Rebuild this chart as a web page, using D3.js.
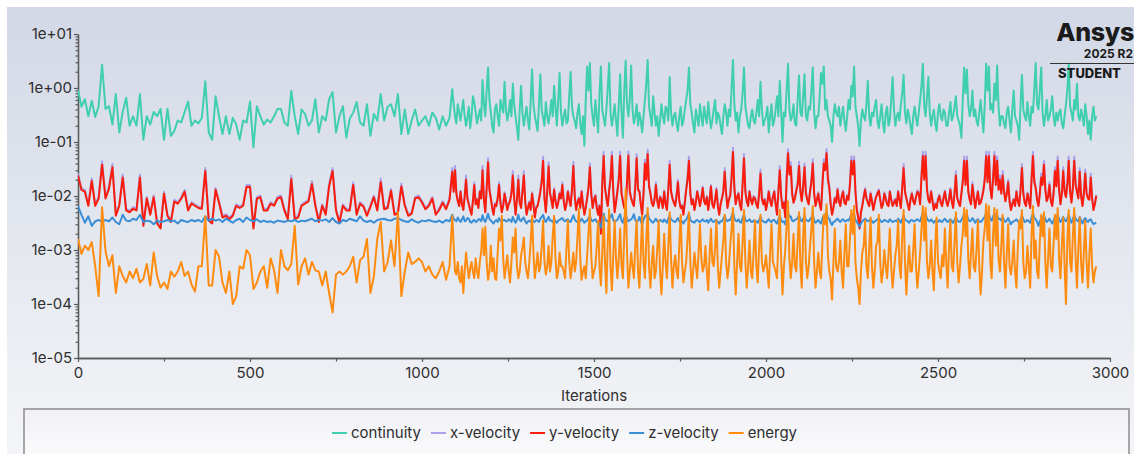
<!DOCTYPE html>
<html>
<head>
<meta charset="utf-8">
<script src="https://cdn.jsdelivr.net/npm/d3@7"></script>
<style>
  html, body { margin: 0; padding: 0; background: #ffffff; }
  svg { display: block; font-family: Inter, "Noto Sans", sans-serif; }
</style>
</head>
<body>
<svg id="chart" width="1134" height="454"></svg>
<script>
// Residual history: iteration numbers and the residual of each equation.
const iterations = [
  0,10,20,30,40,50,60,70,80,90,
  100,110,120,130,140,150,160,170,180,190,
  200,210,220,230,240,250,260,270,280,290,
  300,310,320,330,340,350,360,370,380,390,
  400,410,420,430,440,450,460,470,480,490,
  500,510,520,530,540,550,560,570,580,590,
  600,610,620,630,640,650,660,670,680,690,
  700,710,720,730,740,750,760,770,780,790,
  800,810,820,830,840,850,860,870,880,890,
  900,910,920,930,940,950,960,970,980,990,
  1000,1010,1020,1030,1040,1050,1060,1070,1080,
  1088,1092,1096,1100,1104,1108,1112,1116,1120,1124,1128,1132,1136,1140,1144,1148,1152,1156,1160,1164,
  1168,1172,1176,1180,1184,1188,1192,1196,1200,1204,1208,1212,1216,1220,1224,1228,1232,1236,1240,1244,
  1248,1252,1256,1260,1264,1268,1272,1276,1280,1284,1288,1292,1296,1300,1304,1308,1312,1316,1320,1324,
  1328,1332,1336,1340,1344,1348,1352,1356,1360,1364,1368,1372,1376,1380,1384,1388,1392,1396,1400,1404,
  1408,1412,1416,1420,1424,1428,1432,1436,1440,1444,1448,1452,1456,1460,1464,1468,1472,1476,1480,1484,
  1488,1492,1496,1500,1504,1508,1512,1516,1520,1524,1528,1532,1536,1540,1544,1548,1552,1556,1560,1564,
  1568,1572,1576,1580,1584,1588,1592,1596,1600,1604,1608,1612,1616,1620,1624,1628,1632,1636,1640,1644,
  1648,1652,1656,1660,1664,1668,1672,1676,1680,1684,1688,1692,1696,1700,1704,1708,1712,1716,1720,1724,
  1728,1732,1736,1740,1744,1748,1752,1756,1760,1764,1768,1772,1776,1780,1784,1788,1792,1796,1800,1804,
  1808,1812,1816,1820,1824,1828,1832,1836,1840,1844,1848,1852,1856,1860,1864,1868,1872,1876,1880,1884,
  1888,1892,1896,1900,1904,1908,1912,1916,1920,1924,1928,1932,1936,1940,1944,1948,1952,1956,1960,1964,
  1968,1972,1976,1980,1984,1988,1992,1996,2000,2004,2008,2012,2016,2020,2024,2028,2032,2036,2040,2044,
  2048,2052,2056,2060,2064,2068,2072,2076,2080,2084,2088,2092,2096,2100,2104,2108,2112,2116,2120,2124,
  2128,2132,2136,2140,2144,2148,2152,2156,2160,2164,2168,2172,2176,2180,2184,2188,2192,2196,2200,2204,
  2208,2212,2216,2220,2224,2228,2232,2236,2240,2244,2248,2252,2256,2260,2264,2268,2272,2276,2280,2284,
  2288,2292,2296,2300,2304,2308,2312,2316,2320,2324,2328,2332,2336,2340,2344,2348,2352,2356,2360,2364,
  2368,2372,2376,2380,2384,2388,2392,2396,2400,2404,2408,2412,2416,2420,2424,2428,2432,2436,2440,2444,
  2448,2452,2456,2460,2464,2468,2472,2476,2480,2484,2488,2492,2496,2500,2504,2508,2512,2516,2520,2524,
  2528,2532,2536,2540,2544,2548,2552,2556,2560,2564,2568,2572,2576,2580,2584,2588,2592,2596,2600,2604,
  2608,2612,2616,2620,2624,2628,2632,2636,2640,2644,2648,2652,2656,2660,2664,2668,2672,2676,2680,2684,
  2688,2692,2696,2700,2704,2708,2712,2716,2720,2724,2728,2732,2736,2740,2744,2748,2752,2756,2760,2764,
  2768,2772,2776,2780,2784,2788,2792,2796,2800,2804,2808,2812,2816,2820,2824,2828,2832,2836,2840,2844,
  2848,2852,2856,2860,2864,2868,2872,2876,2880,2884,2888,2892,2896,2900,2904,2908,2912,2916,2920,2924,
  2928,2932,2936,2940,2944,2948,2952,2956,2960
];

const continuity = [
  0.93,0.45,0.62,0.3,0.58,0.29,0.46,2.7,0.41,0.46,
  0.21,0.77,0.15,0.36,0.66,0.2,0.3,0.2,0.77,0.11,
  0.3,0.21,0.36,0.3,0.41,0.11,0.41,0.13,0.16,0.25,
  0.23,0.36,0.56,0.2,0.25,0.22,0.28,1.33,0.15,0.11,
  0.7,0.3,0.14,0.3,0.14,0.28,0.21,0.11,0.25,0.23,
  0.56,0.08,0.46,0.3,0.21,0.26,0.23,0.3,0.41,0.41,
  0.23,0.2,0.88,0.3,0.14,0.4,0.33,0.2,0.25,0.62,
  0.15,0.3,0.25,0.62,0.84,0.15,0.3,0.46,0.12,0.27,
  0.35,0.55,0.23,0.2,0.5,0.13,0.33,0.25,0.77,0.25,
  0.45,0.5,0.3,0.77,0.14,0.4,0.14,0.25,0.4,0.2,
  0.25,0.3,0.2,0.35,0.28,0.17,0.3,0.2,0.28,
  0.95,0.5,0.3,0.22,0.5,0.35,0.25,0.4,0.6,0.3,0.2,0.28,0.45,0.18,0.3,0.7,0.55,0.35,0.22,0.3,
  0.4,0.25,1.4,0.5,0.3,0.9,2.4,0.6,0.35,0.2,0.15,0.4,0.5,0.3,0.2,0.6,0.45,0.35,1.3,0.4,
  0.25,0.35,0.6,0.3,1.2,0.5,0.3,0.18,0.11,0.4,1.1,0.35,0.2,0.3,0.45,0.25,0.17,0.6,2.2,0.5,
  0.3,0.22,0.16,0.5,1.8,0.4,0.28,0.2,0.55,0.3,0.22,0.35,0.6,0.3,1.1,0.45,0.2,0.6,1.9,0.35,
  0.2,0.3,0.4,0.22,0.25,0.7,2.0,0.45,0.3,0.25,0.18,0.35,0.5,0.22,0.14,0.3,0.085,0.6,2.5,0.9,
  2.9,0.5,0.3,0.2,0.6,0.3,0.15,0.8,2.5,0.4,0.28,0.2,0.4,1.0,2.9,0.35,0.2,0.3,0.5,0.25,
  0.13,0.5,1.8,0.35,0.12,0.9,3.2,0.5,0.3,0.6,2.6,0.4,0.22,0.3,0.5,0.2,0.35,0.25,0.15,0.3,
  0.6,1.2,3.3,0.45,0.3,0.2,0.7,0.35,0.2,0.3,0.13,0.25,0.5,0.3,0.22,0.45,0.4,0.25,1.6,0.35,
  0.2,0.3,0.35,0.22,0.16,0.3,0.45,0.2,0.25,0.4,0.6,0.9,2.4,0.5,0.35,0.22,0.15,0.4,0.28,0.2,
  0.5,0.3,0.2,0.45,0.3,0.22,0.55,0.3,0.18,0.25,0.4,0.6,0.22,0.35,0.3,0.2,0.14,0.3,0.5,0.35,
  0.2,0.4,0.3,1.0,3.3,0.5,0.25,0.35,0.15,0.3,0.4,0.8,2.4,0.45,0.3,0.2,0.18,0.3,0.4,0.25,
  0.22,0.35,0.6,0.3,1.3,0.4,0.2,0.25,0.3,0.45,0.15,0.3,0.5,0.2,0.25,0.4,0.7,0.3,1.35,0.4,
  0.1,0.35,0.3,0.9,2.8,0.4,0.25,0.3,0.5,0.22,0.2,0.6,1.7,0.35,0.3,0.7,1.8,0.3,0.25,0.45,
  0.4,0.9,2.4,0.35,0.18,0.3,0.3,0.7,1.9,1.2,2.5,0.4,0.6,0.3,0.25,0.2,0.1,0.3,0.5,0.35,
  0.3,0.45,0.2,0.3,0.45,0.25,0.16,0.3,0.6,0.4,1.1,0.7,2.5,0.45,0.3,0.2,0.085,0.25,0.4,0.3,
  0.25,0.5,1.35,0.3,0.2,0.35,0.3,0.45,0.6,0.25,0.18,0.3,0.5,0.22,0.15,0.35,0.45,0.2,0.25,0.6,
  1.6,0.4,0.2,0.3,0.35,0.25,0.5,0.8,1.75,0.35,0.22,0.4,0.3,0.2,0.14,0.3,0.45,0.28,0.2,0.35,
  0.6,1.1,2.8,0.45,0.3,0.7,1.6,0.35,0.2,0.3,0.4,0.22,0.16,0.35,0.5,0.3,0.25,0.4,0.35,0.2,
  0.2,0.35,0.55,0.25,0.3,0.45,0.7,0.3,0.25,0.2,0.12,0.6,2.4,0.8,2.2,0.5,0.3,0.4,0.9,0.3,
  0.4,0.25,0.2,0.35,0.6,0.3,0.15,0.5,2.8,0.9,2.5,0.4,0.5,0.35,1.2,0.6,2.6,0.45,0.2,0.3,
  0.3,0.22,0.18,0.35,0.45,0.25,0.15,0.4,0.9,0.3,0.25,0.2,0.11,0.5,1.75,0.4,0.3,0.25,0.55,0.3,
  0.2,0.45,0.35,1.0,2.9,0.5,0.4,0.9,2.4,0.35,0.2,0.3,0.6,0.25,0.3,0.4,0.7,0.3,0.2,0.35,
  0.25,0.35,0.4,0.22,0.18,0.3,0.5,0.9,2.8,0.45,0.35,0.25,0.6,0.4,1.2,0.3,0.25,0.4,0.3,0.2,
  0.5,0.3,0.14,0.25,0.11,0.3,0.45,0.25,0.3
];

const xVelocity = [
  0.026,0.014,0.013,0.007,0.021,0.007,0.0096,0.044,0.0096,0.015,
  0.039,0.0046,0.007,0.025,0.0058,0.0053,0.0062,0.0058,0.025,0.003,
  0.0096,0.0048,0.0102,0.0033,0.0027,0.012,0.0046,0.0035,0.0085,0.0077,
  0.0095,0.013,0.0058,0.0077,0.007,0.0064,0.0062,0.033,0.0037,0.0033,
  0.014,0.008,0.0043,0.0046,0.004,0.0046,0.007,0.0064,0.007,0.016,
  0.016,0.0027,0.0095,0.0102,0.0058,0.0058,0.0077,0.007,0.0096,0.0102,
  0.0058,0.004,0.024,0.004,0.0043,0.007,0.0077,0.0085,0.019,0.007,
  0.0035,0.007,0.0048,0.017,0.033,0.0058,0.0034,0.007,0.0058,0.0058,
  0.018,0.0048,0.0077,0.0067,0.0046,0.0067,0.0102,0.0058,0.021,0.0061,
  0.0064,0.0134,0.0048,0.0051,0.017,0.007,0.0046,0.005,0.0096,0.0102,
  0.0081,0.0061,0.007,0.0096,0.0048,0.0059,0.008,0.0061,0.0091,
  0.033,0.0127,0.036,0.0117,0.0085,0.0069,0.0127,0.0074,0.0058,0.01,0.024,0.0095,0.0074,0.0058,0.0048,0.0085,0.018,0.0074,0.009,0.0064,
  0.0127,0.0095,0.036,0.009,0.0053,0.015,0.05,0.014,0.0095,0.0064,0.0048,0.0074,0.0069,0.0095,0.018,0.008,0.0053,0.0069,0.0117,0.0085,
  0.0058,0.0074,0.0085,0.0117,0.029,0.0095,0.0048,0.009,0.024,0.008,0.0064,0.0127,0.029,0.0085,0.0048,0.0064,0.008,0.0058,0.0117,0.0074,
  0.0042,0.0064,0.0069,0.009,0.0127,0.02,0.054,0.0095,0.0053,0.0127,0.042,0.0117,0.009,0.0064,0.014,0.0085,0.0064,0.008,0.0117,0.0095,
  0.018,0.0085,0.0058,0.0074,0.0127,0.009,0.0069,0.014,0.043,0.0106,0.0058,0.008,0.0095,0.0064,0.0127,0.0074,0.0048,0.0064,0.0095,0.015,
  0.04,0.0117,0.0064,0.009,0.0106,0.0064,0.0048,0.0069,0.0021,0.018,0.066,0.015,0.0095,0.0069,0.0133,0.024,0.066,0.0127,0.0053,0.008,
  0.0127,0.024,0.066,0.0117,0.0085,0.0064,0.0058,0.02,0.067,0.0127,0.0095,0.008,0.0069,0.016,0.06,0.014,0.0127,0.0074,0.0048,0.0117,
  0.047,0.024,0.072,0.016,0.0117,0.008,0.0069,0.009,0.018,0.0085,0.0064,0.01,0.009,0.0064,0.0127,0.0074,0.0058,0.014,0.045,0.0127,
  0.0095,0.008,0.0069,0.0106,0.02,0.0085,0.0064,0.0069,0.0048,0.008,0.014,0.024,0.054,0.0117,0.0074,0.009,0.0058,0.008,0.0127,0.0095,
  0.0069,0.0095,0.015,0.0085,0.0074,0.01,0.0058,0.009,0.016,0.0074,0.0064,0.009,0.014,0.0069,0.0048,0.0074,0.0095,0.0127,0.033,0.0117,
  0.0064,0.009,0.0106,0.026,0.078,0.015,0.0074,0.01,0.0117,0.0074,0.0058,0.018,0.06,0.0127,0.0085,0.0069,0.0127,0.009,0.0074,0.01,
  0.0095,0.0074,0.0064,0.0117,0.031,0.0095,0.0074,0.009,0.0058,0.008,0.0127,0.0085,0.0069,0.01,0.0127,0.0074,0.0048,0.0127,0.036,0.0106,
  0.0064,0.008,0.0042,0.024,0.074,0.03,0.042,0.0117,0.008,0.0095,0.0133,0.018,0.043,0.0127,0.0085,0.016,0.04,0.0117,0.009,0.0074,
  0.0127,0.02,0.048,0.0117,0.0069,0.009,0.0117,0.0074,0.0058,0.018,0.048,0.036,0.074,0.024,0.015,0.0074,0.0048,0.0064,0.0095,0.008,
  0.014,0.0085,0.0069,0.01,0.0127,0.008,0.0074,0.0106,0.009,0.018,0.054,0.03,0.054,0.0127,0.0058,0.0042,0.0026,0.0053,0.0069,0.01,
  0.014,0.0095,0.008,0.0069,0.0117,0.0085,0.0058,0.008,0.01,0.0117,0.0133,0.009,0.0064,0.0074,0.0117,0.0095,0.0074,0.0069,0.0127,0.009,
  0.0069,0.008,0.009,0.0069,0.0127,0.009,0.0064,0.015,0.039,0.0127,0.0095,0.0074,0.0058,0.009,0.0117,0.0085,0.0074,0.01,0.0127,0.0117,
  0.0074,0.026,0.066,0.024,0.066,0.014,0.009,0.008,0.0127,0.0085,0.0058,0.0074,0.0064,0.009,0.0106,0.008,0.0069,0.0095,0.0127,0.0085,
  0.0069,0.009,0.014,0.0085,0.0064,0.0117,0.029,0.0095,0.008,0.0069,0.0117,0.02,0.054,0.018,0.054,0.0127,0.009,0.0074,0.018,0.0106,
  0.0064,0.009,0.0127,0.0074,0.008,0.01,0.0133,0.024,0.066,0.02,0.066,0.015,0.0095,0.024,0.066,0.018,0.054,0.014,0.024,0.0117,
  0.029,0.0127,0.0085,0.0117,0.02,0.0085,0.0058,0.0074,0.009,0.0069,0.0127,0.0085,0.0069,0.014,0.039,0.0117,0.008,0.0069,0.0117,0.009,
  0.0064,0.024,0.066,0.02,0.015,0.009,0.0069,0.0117,0.026,0.018,0.045,0.014,0.0085,0.01,0.018,0.0085,0.0069,0.0117,0.034,0.016,
  0.054,0.014,0.0074,0.0117,0.034,0.0127,0.01,0.018,0.054,0.0127,0.008,0.015,0.054,0.018,0.0127,0.0095,0.033,0.0106,0.0069,0.0117,
  0.031,0.0117,0.0095,0.009,0.026,0.0095,0.0058,0.0074,0.0106
];

const yVelocity = [
  0.024,0.013,0.012,0.0066,0.019,0.0066,0.009,0.038,0.009,0.0135,
  0.034,0.0043,0.0066,0.022,0.0054,0.005,0.0058,0.0054,0.022,0.0028,
  0.009,0.0045,0.0095,0.0031,0.0025,0.011,0.0043,0.0033,0.0079,0.0072,
  0.0089,0.012,0.0054,0.0072,0.0066,0.006,0.0058,0.029,0.0035,0.0031,
  0.013,0.0075,0.004,0.0043,0.0037,0.0043,0.0066,0.006,0.0066,0.0147,
  0.0147,0.0025,0.0089,0.0095,0.0054,0.0054,0.0072,0.0066,0.009,0.0095,
  0.0054,0.0037,0.0206,0.0037,0.004,0.0066,0.0072,0.0079,0.0167,0.0066,
  0.0033,0.0066,0.0045,0.015,0.029,0.0054,0.0032,0.0066,0.0054,0.0054,
  0.016,0.0045,0.0072,0.0063,0.0043,0.0063,0.0095,0.0054,0.018,0.0057,
  0.006,0.0125,0.0045,0.0048,0.015,0.0066,0.0043,0.0047,0.009,0.0095,
  0.0076,0.0057,0.0066,0.009,0.0045,0.0055,0.0075,0.0057,0.0085,
  0.028,0.012,0.03,0.011,0.008,0.0065,0.012,0.007,0.0055,0.0095,0.02,0.009,0.007,0.0055,0.0045,0.008,0.016,0.007,0.0085,0.006,
  0.012,0.009,0.03,0.0085,0.005,0.014,0.042,0.013,0.009,0.006,0.0045,0.007,0.0065,0.009,0.016,0.0075,0.005,0.0065,0.011,0.008,
  0.0055,0.007,0.008,0.011,0.024,0.009,0.0045,0.0085,0.02,0.0075,0.006,0.012,0.024,0.008,0.0045,0.006,0.0075,0.0055,0.011,0.007,
  0.004,0.006,0.0065,0.0085,0.012,0.018,0.045,0.009,0.005,0.012,0.035,0.011,0.0085,0.006,0.013,0.008,0.006,0.0075,0.011,0.009,
  0.016,0.008,0.0055,0.007,0.012,0.0085,0.0065,0.013,0.036,0.01,0.0055,0.0075,0.009,0.006,0.012,0.007,0.0045,0.006,0.009,0.014,
  0.034,0.011,0.006,0.0085,0.01,0.006,0.0045,0.0065,0.002,0.016,0.055,0.014,0.009,0.0065,0.0125,0.02,0.055,0.012,0.005,0.0075,
  0.012,0.02,0.055,0.011,0.008,0.006,0.0055,0.018,0.056,0.012,0.009,0.0075,0.0065,0.015,0.05,0.013,0.012,0.007,0.0045,0.011,
  0.04,0.02,0.06,0.015,0.011,0.0075,0.0065,0.0085,0.016,0.008,0.006,0.0095,0.0085,0.006,0.012,0.007,0.0055,0.013,0.038,0.012,
  0.009,0.0075,0.0065,0.01,0.018,0.008,0.006,0.0065,0.0045,0.0075,0.013,0.02,0.045,0.011,0.007,0.0085,0.0055,0.0075,0.012,0.009,
  0.0065,0.009,0.014,0.008,0.007,0.0095,0.0055,0.0085,0.015,0.007,0.006,0.0085,0.013,0.0065,0.0045,0.007,0.009,0.012,0.028,0.011,
  0.006,0.0085,0.01,0.022,0.065,0.014,0.007,0.0095,0.011,0.007,0.0055,0.016,0.05,0.012,0.008,0.0065,0.012,0.0085,0.007,0.0095,
  0.009,0.007,0.006,0.011,0.026,0.009,0.007,0.0085,0.0055,0.0075,0.012,0.008,0.0065,0.0095,0.012,0.007,0.0045,0.012,0.03,0.01,
  0.006,0.0075,0.004,0.02,0.062,0.025,0.035,0.011,0.0075,0.009,0.0125,0.016,0.036,0.012,0.008,0.015,0.034,0.011,0.0085,0.007,
  0.012,0.018,0.04,0.011,0.0065,0.0085,0.011,0.007,0.0055,0.016,0.04,0.03,0.062,0.02,0.014,0.007,0.0045,0.006,0.009,0.0075,
  0.013,0.008,0.0065,0.0095,0.012,0.0075,0.007,0.01,0.0085,0.016,0.045,0.025,0.045,0.012,0.0055,0.004,0.0025,0.005,0.0065,0.0095,
  0.013,0.009,0.0075,0.0065,0.011,0.008,0.0055,0.0075,0.0095,0.011,0.0125,0.0085,0.006,0.007,0.011,0.009,0.007,0.0065,0.012,0.0085,
  0.0065,0.0075,0.0085,0.0065,0.012,0.0085,0.006,0.014,0.033,0.012,0.009,0.007,0.0055,0.0085,0.011,0.008,0.007,0.0095,0.012,0.011,
  0.007,0.022,0.055,0.02,0.055,0.013,0.0085,0.0075,0.012,0.008,0.0055,0.007,0.006,0.0085,0.01,0.0075,0.0065,0.009,0.012,0.008,
  0.0065,0.0085,0.013,0.008,0.006,0.011,0.024,0.009,0.0075,0.0065,0.011,0.018,0.045,0.016,0.045,0.012,0.0085,0.007,0.016,0.01,
  0.006,0.0085,0.012,0.007,0.0075,0.0095,0.0125,0.02,0.055,0.018,0.055,0.014,0.009,0.02,0.055,0.016,0.045,0.013,0.02,0.011,
  0.024,0.012,0.008,0.011,0.018,0.008,0.0055,0.007,0.0085,0.0065,0.012,0.008,0.0065,0.013,0.033,0.011,0.0075,0.0065,0.011,0.0085,
  0.006,0.02,0.055,0.018,0.014,0.0085,0.0065,0.011,0.022,0.016,0.038,0.013,0.008,0.0095,0.016,0.008,0.0065,0.011,0.029,0.015,
  0.045,0.013,0.007,0.011,0.029,0.012,0.0095,0.016,0.045,0.012,0.0075,0.014,0.045,0.016,0.012,0.009,0.028,0.01,0.0065,0.011,
  0.026,0.011,0.009,0.0085,0.022,0.009,0.0055,0.007,0.01
];

const zVelocity = [
  0.0065,0.0045,0.0032,0.0042,0.0028,0.0034,0.0036,0.0033,0.0036,0.0034,
  0.004,0.0033,0.003,0.0045,0.0035,0.0034,0.0038,0.0036,0.0045,0.0033,
  0.0035,0.0034,0.003,0.0035,0.0033,0.0034,0.0036,0.0034,0.0035,0.0031,
  0.0036,0.0034,0.0033,0.0036,0.0034,0.0036,0.0033,0.0042,0.0035,0.0038,
  0.0035,0.0037,0.0033,0.0038,0.0035,0.0032,0.0036,0.0038,0.0033,0.004,
  0.0036,0.0034,0.0037,0.0033,0.0035,0.0033,0.0034,0.0032,0.0035,0.0034,
  0.0033,0.0035,0.0034,0.0036,0.0033,0.0035,0.0034,0.0036,0.0038,0.0034,
  0.0036,0.0035,0.0037,0.0033,0.0039,0.0033,0.0031,0.0036,0.0034,0.0038,
  0.0036,0.0034,0.0042,0.0035,0.0033,0.0035,0.0032,0.0036,0.0037,0.0038,
  0.0036,0.0035,0.0038,0.0039,0.0036,0.0034,0.0033,0.0037,0.0034,0.0032,
  0.0035,0.0034,0.0036,0.0034,0.0033,0.0035,0.0032,0.0036,0.0034,
  0.0045,0.0038,0.0036,0.0034,0.004,0.0036,0.0033,0.0037,0.0042,0.0034,0.0035,0.0039,0.0038,0.0033,0.0032,0.0035,0.0036,0.0033,0.0034,0.0037,
  0.0037,0.0034,0.0044,0.0036,0.0033,0.0039,0.0047,0.0038,0.0035,0.0033,0.0031,0.0034,0.0036,0.0033,0.0039,0.0035,0.0033,0.0036,0.0036,0.0034,
  0.0034,0.0037,0.0036,0.0033,0.0041,0.0035,0.0032,0.0036,0.0045,0.0036,0.0034,0.0038,0.004,0.0034,0.0031,0.0034,0.0035,0.0033,0.0037,0.0034,
  0.0033,0.0036,0.0035,0.0033,0.0038,0.0041,0.0045,0.0036,0.0033,0.0037,0.0041,0.0035,0.0035,0.0033,0.0038,0.0034,0.0032,0.0035,0.0036,0.0038,
  0.0039,0.0035,0.0034,0.0036,0.0037,0.0034,0.0033,0.0038,0.0044,0.0037,0.0034,0.0033,0.0036,0.0034,0.0038,0.0035,0.0032,0.0034,0.0035,0.0039,
  0.0042,0.0036,0.0034,0.0036,0.0037,0.0033,0.0032,0.003,0.0026,0.0038,0.0047,0.0037,0.0035,0.0034,0.0038,0.0041,0.0046,0.0036,0.0033,0.0035,
  0.0036,0.0041,0.0046,0.0035,0.0032,0.0039,0.0048,0.0037,0.0034,0.0036,0.0037,0.004,0.0046,0.0036,0.0033,0.0035,0.0041,0.0034,0.003,0.0036,
  0.0042,0.0044,0.0048,0.0038,0.0036,0.0033,0.0032,0.0035,0.0038,0.0034,0.0033,0.0036,0.0035,0.0033,0.0037,0.0034,0.0032,0.0038,0.0043,0.0037,
  0.0035,0.0034,0.0033,0.0036,0.0039,0.0034,0.0032,0.0034,0.0031,0.0035,0.0036,0.0041,0.0047,0.0036,0.0034,0.0033,0.0032,0.0035,0.0036,0.0034,
  0.0033,0.0035,0.0037,0.0034,0.0034,0.0036,0.0032,0.0035,0.0038,0.0034,0.0033,0.0035,0.0036,0.0033,0.0031,0.0034,0.0034,0.0038,0.0042,0.0036,
  0.0034,0.0036,0.0036,0.0042,0.005,0.0038,0.0035,0.0034,0.0037,0.0033,0.0032,0.0039,0.0046,0.0036,0.0034,0.0035,0.0037,0.0034,0.0033,0.0035,
  0.0035,0.0034,0.0032,0.0036,0.0041,0.0035,0.0034,0.0033,0.0032,0.0035,0.0037,0.0034,0.0033,0.0036,0.0036,0.0033,0.0031,0.0037,0.0043,0.0036,
  0.0033,0.0034,0.003,0.0039,0.0049,0.0041,0.0042,0.0035,0.0034,0.0036,0.0037,0.0039,0.0044,0.0036,0.0034,0.0038,0.0043,0.0036,0.0035,0.0034,
  0.0037,0.004,0.0045,0.0035,0.0032,0.0034,0.0036,0.0033,0.0031,0.0038,0.0044,0.0046,0.005,0.0039,0.0038,0.0032,0.0029,0.0033,0.0034,0.0036,
  0.0038,0.0035,0.0033,0.0036,0.0037,0.0034,0.0034,0.0036,0.0035,0.0039,0.0046,0.0042,0.0047,0.0036,0.0033,0.003,0.0027,0.0031,0.0034,0.0036,
  0.0038,0.0036,0.0034,0.0035,0.0037,0.0034,0.0032,0.0034,0.0035,0.0037,0.0039,0.0035,0.0033,0.0034,0.0036,0.0035,0.0034,0.0033,0.0037,0.0035,
  0.0033,0.0034,0.0035,0.0034,0.0038,0.0035,0.0032,0.0037,0.0043,0.0037,0.0035,0.0034,0.0032,0.0035,0.0036,0.0034,0.0034,0.0036,0.0037,0.0035,
  0.0034,0.0041,0.0048,0.0042,0.0047,0.0038,0.0035,0.0034,0.0037,0.0034,0.0032,0.0035,0.0034,0.0033,0.0036,0.0034,0.0033,0.0036,0.0038,0.0035,
  0.0033,0.0035,0.0037,0.0034,0.0032,0.0036,0.0041,0.0035,0.0034,0.0033,0.0036,0.004,0.0046,0.0039,0.0045,0.0037,0.0034,0.0035,0.0039,0.0036,
  0.0032,0.0035,0.0037,0.0034,0.0033,0.0035,0.0038,0.0041,0.0048,0.0039,0.0047,0.0037,0.0035,0.0041,0.0048,0.004,0.0044,0.0037,0.0038,0.0035,
  0.0041,0.0036,0.0033,0.0035,0.0039,0.0034,0.003,0.0033,0.0034,0.0035,0.0037,0.0034,0.0031,0.0036,0.0044,0.0037,0.0033,0.0034,0.0036,0.0034,
  0.0032,0.004,0.0048,0.0039,0.0037,0.0033,0.0028,0.0034,0.0039,0.0037,0.0044,0.0037,0.0033,0.0035,0.0038,0.0034,0.0031,0.0035,0.0041,0.0038,
  0.0045,0.0037,0.0033,0.0036,0.0041,0.0036,0.0034,0.0038,0.0046,0.0037,0.0032,0.0037,0.0045,0.0038,0.0035,0.0034,0.0041,0.0035,0.0031,0.0036,
  0.0039,0.0035,0.0033,0.0036,0.0037,0.0033,0.003,0.0031,0.0032
];

const energy = [
  0.0016,0.00085,0.0012,0.001,0.0014,0.0005,0.00014,0.0062,0.00095,0.0005,
  0.0008,0.00016,0.0005,0.00033,0.00025,0.0004,0.0003,0.00045,0.00025,0.00029,
  0.00055,0.00022,0.0009,0.00033,0.0002,0.00025,0.00019,0.0004,0.00032,0.0004,
  0.0006,0.00033,0.0004,0.00023,0.00017,0.0005,0.0005,0.0042,0.00022,0.00022,
  0.001,0.00075,0.00025,0.00016,0.0004,0.0001,0.00014,0.0005,0.00045,0.001,
  0.0008,0.00019,0.00025,0.0004,0.0005,0.0002,0.0007,0.00042,0.00016,0.001,
  0.0005,0.00042,0.00055,0.0028,0.00023,0.0005,0.0007,0.00035,0.0006,0.00042,
  0.0004,0.00022,0.0004,0.00016,0.00007,0.00035,0.0004,0.00035,0.0004,0.0005,
  0.00075,0.00025,0.00065,0.00075,0.0016,0.00016,0.00032,0.0016,0.0033,0.0004,
  0.0006,0.0015,0.0005,0.005,0.00014,0.0004,0.0009,0.00055,0.0006,0.0007,
  0.0006,0.0004,0.0005,0.00035,0.0003,0.0004,0.0006,0.00028,0.0005,
  0.0043,0.0012,0.0004,0.00035,0.0006,0.0003,0.00025,0.0005,0.00016,0.0004,0.0009,0.0005,0.0003,0.00045,0.0006,0.0004,0.0003,0.0007,0.0004,0.0003,
  0.0006,0.0009,0.0025,0.0008,0.0027,0.0006,0.00028,0.0004,0.0012,0.0004,0.0007,0.0003,0.00028,0.0009,0.0025,0.0015,0.0043,0.0007,0.0003,0.0005,
  0.0008,0.0004,0.00025,0.0006,0.0017,0.0009,0.0025,0.0005,0.0003,0.0004,0.0008,0.0011,0.0017,0.0006,0.0004,0.0003,0.0006,0.0015,0.0043,0.0009,
  0.0003,0.0005,0.0009,0.0004,0.0005,0.0012,0.0035,0.0006,0.00035,0.0005,0.0012,0.0004,0.0006,0.0018,0.0043,0.0007,0.0003,0.0004,0.0009,0.0005,
  0.0005,0.0004,0.0003,0.0011,0.0035,0.0006,0.0003,0.0005,0.0009,0.0004,0.0006,0.0018,0.0057,0.0007,0.00028,0.0004,0.0005,0.0003,0.0008,0.002,
  0.0057,0.0008,0.0003,0.0004,0.0005,0.0012,0.0035,0.0005,0.00022,0.0009,0.0043,0.0006,0.00016,0.0015,0.0057,0.0005,0.00018,0.0008,0.0035,0.0007,
  0.0003,0.0007,0.0025,0.0005,0.0003,0.002,0.0135,0.0009,0.0002,0.0004,0.0009,0.0005,0.0003,0.0012,0.0035,0.0004,0.0002,0.0009,0.0043,0.0006,
  0.0003,0.0015,0.006,0.0005,0.0002,0.0006,0.0012,0.0003,0.0004,0.0011,0.0035,0.0004,0.00015,0.0005,0.002,0.0006,0.0003,0.0012,0.005,0.0007,
  0.0002,0.0005,0.0008,0.0004,0.0003,0.0013,0.0045,0.0006,0.00025,0.0004,0.0006,0.0016,0.005,0.0006,0.0002,0.0004,0.0009,0.0005,0.0003,0.0009,
  0.003,0.0007,0.0004,0.0005,0.0012,0.0004,0.00018,0.0008,0.0025,0.0006,0.0005,0.0011,0.0035,0.0005,0.0002,0.0004,0.0008,0.0015,0.0045,0.0006,
  0.0003,0.0005,0.0012,0.0025,0.006,0.0005,0.00015,0.0006,0.002,0.0005,0.0004,0.0014,0.0055,0.0006,0.0002,0.0005,0.0015,0.0004,0.0003,0.0009,
  0.0035,0.0005,0.00025,0.0011,0.0045,0.0006,0.0004,0.0005,0.0008,0.0004,0.0002,0.0009,0.003,0.0006,0.0005,0.0004,0.0003,0.0016,0.0055,0.0007,
  0.00015,0.0005,0.001,0.003,0.008,0.0007,0.0003,0.0006,0.002,0.0005,0.0004,0.0015,0.005,0.0005,0.0002,0.0018,0.006,0.0006,0.0003,0.0005,
  0.0012,0.0025,0.0065,0.0006,0.0002,0.0004,0.0009,0.0004,0.0003,0.0014,0.0045,0.003,0.007,0.0008,0.0004,0.0003,0.00012,0.0006,0.0025,0.0005,
  0.0004,0.0006,0.0015,0.0004,0.0002,0.0009,0.003,0.0005,0.0005,0.0016,0.0055,0.002,0.0065,0.0006,0.0003,0.0002,0.0001,0.0004,0.0009,0.0012,
  0.0035,0.0005,0.0003,0.0011,0.004,0.0005,0.0002,0.0004,0.0012,0.0014,0.0045,0.0006,0.00025,0.0004,0.001,0.0005,0.0003,0.0008,0.0025,0.0005,
  0.0002,0.0004,0.0008,0.0012,0.0035,0.0005,0.0003,0.0018,0.0055,0.0006,0.00015,0.0005,0.0012,0.0004,0.0004,0.001,0.003,0.0005,0.0002,0.0004,
  0.0009,0.0025,0.0065,0.0015,0.006,0.0006,0.0003,0.0005,0.0015,0.0004,0.00018,0.0012,0.004,0.0006,0.0004,0.0003,0.0008,0.0005,0.0025,0.0006,
  0.0002,0.0011,0.0035,0.0005,0.0004,0.0014,0.005,0.0006,0.00025,0.0005,0.0012,0.002,0.006,0.0018,0.0055,0.0007,0.0003,0.0009,0.0025,0.0005,
  0.0004,0.001,0.0035,0.0005,0.00015,0.0004,0.0015,0.0025,0.007,0.0015,0.0065,0.0006,0.0003,0.0018,0.006,0.0012,0.0055,0.0007,0.0004,0.0012,
  0.0045,0.0006,0.0002,0.0009,0.003,0.0005,0.00035,0.0006,0.0015,0.0004,0.0002,0.0011,0.0035,0.0025,0.0055,0.0006,0.0003,0.0004,0.0012,0.0005,
  0.0002,0.002,0.0065,0.0007,0.0015,0.0004,0.0003,0.0014,0.0045,0.0018,0.005,0.0006,0.0002,0.0007,0.0025,0.0005,0.0004,0.0013,0.0045,0.0016,
  0.006,0.0007,0.0003,0.0012,0.004,0.0005,0.0001,0.0015,0.0055,0.0006,0.0004,0.0018,0.006,0.0007,0.0002,0.0011,0.004,0.0006,0.00025,0.0009,
  0.0035,0.0006,0.0002,0.0008,0.0025,0.0005,0.00025,0.0004,0.0005
];

const seriesNames = ["continuity", "x-velocity", "y-velocity", "z-velocity", "energy"];
const seriesValues = [continuity, xVelocity, yVelocity, zVelocity, energy];
const seriesColors = ["#3fcfae", "#a9a2ea", "#fb1d0c", "#3a8ed6", "#ff8b0f"];

const xTickValues = [0, 500, 1000, 1500, 2000, 2500, 3000];
const xMinorTicks = [250, 750, 1250, 1750, 2250, 2750];
const yTickValues = [1e1, 1e0, 1e-1, 1e-2, 1e-3, 1e-4, 1e-5];
const yTickLabels = ["1e+01", "1e+00", "1e-01", "1e-02", "1e-03", "1e-04", "1e-05"];

const svg = d3.select("#chart");
const W = 1134, H = 454;

const x = d3.scaleLinear().domain([0, 3000]).range([78, 1110]);
const y = d3.scaleLog().domain([1e-5, 1e1]).range([358, 34]);

// ---- backgrounds ----
const defs = svg.append("defs");
const bg = defs.append("linearGradient").attr("id", "panelBg")
  .attr("x1", 0).attr("y1", 0).attr("x2", 0).attr("y2", 1);
bg.append("stop").attr("offset", "0%").attr("stop-color", "#d2d8e6");
bg.append("stop").attr("offset", "45%").attr("stop-color", "#e1e5ed");
bg.append("stop").attr("offset", "100%").attr("stop-color", "#f4f5f8");

const lg = defs.append("linearGradient").attr("id", "legendBg")
  .attr("x1", 0).attr("y1", 0).attr("x2", 0).attr("y2", 1);
lg.append("stop").attr("offset", "0%").attr("stop-color", "#f0f1f5");
lg.append("stop").attr("offset", "100%").attr("stop-color", "#fdfdfe");

defs.append("clipPath").attr("id", "plotClip")
  .append("rect").attr("x", 78).attr("y", 20).attr("width", 1040).attr("height", 338);

svg.append("rect").attr("x", 7).attr("y", 7).attr("width", W - 7).attr("height", H - 7)
  .attr("fill", "url(#panelBg)");

// ---- axes ----
const axisColor = "#5a5a5a";
const textColor = "#2e2e2e";

function styleAxis(g) {
  g.selectAll(".domain").attr("stroke", axisColor).attr("stroke-width", 1.3);
  g.selectAll(".tick line").attr("stroke", axisColor).attr("stroke-width", 1.2);
  g.selectAll(".tick text").attr("fill", textColor)
    .attr("font-family", "Inter, 'Noto Sans', sans-serif").attr("font-size", 15);
}

// minor log ticks on the y axis
const yMinor = [];
for (const e of [-5, -4, -3, -2, -1, 0]) {
  for (const m of [2, 3, 4, 5, 6, 7, 8, 9]) yMinor.push(m * Math.pow(10, e));
}
svg.append("g").attr("transform", "translate(78,0)")
  .call(d3.axisLeft(y).tickValues(yMinor).tickFormat("").tickSize(2.5).tickSizeOuter(0))
  .call(styleAxis);

svg.append("g").attr("transform", "translate(78,0)")
  .call(d3.axisLeft(y).tickValues(yTickValues)
    .tickFormat((d, i) => yTickLabels[i]).tickSize(4).tickPadding(2).tickSizeOuter(0))
  .call(styleAxis);

svg.append("g").attr("transform", "translate(0,358)")
  .call(d3.axisBottom(x).tickValues(xMinorTicks).tickFormat("").tickSize(3.5).tickSizeOuter(0))
  .call(styleAxis);

svg.append("g").attr("transform", "translate(0,358)")
  .call(d3.axisBottom(x).tickValues(xTickValues).tickFormat(d3.format("d"))
    .tickSize(4).tickPadding(5).tickSizeOuter(0))
  .call(styleAxis);

svg.append("text")
  .attr("x", (x.range()[0] + x.range()[1]) / 2).attr("y", 401)
  .attr("text-anchor", "middle").attr("fill", textColor).attr("font-size", 15)
  .text("Iterations");

// ---- residual lines ----
const line = d3.line()
  .defined(d => d.v != null && d.v > 0)
  .x(d => x(d.it))
  .y(d => y(d.v))
  .curve(d3.curveLinear);

const plot = svg.append("g").attr("clip-path", "url(#plotClip)");
seriesNames.forEach((name, k) => {
  const vals = seriesValues[k];
  const pts = iterations.map((it, i) => ({ it, v: vals[i] })).filter(d => d.v !== undefined);
  plot.append("path")
    .datum(pts)
    .attr("fill", "none")
    .attr("stroke", seriesColors[k])
    .attr("stroke-width", 2)
    .attr("stroke-linejoin", "round")
    .attr("d", line);
});

// ---- legend ----
svg.append("rect")
  .attr("x", 24).attr("y", 409).attr("width", 1105).attr("height", 60)
  .attr("fill", "url(#legendBg)").attr("stroke", "#8c8c8c").attr("stroke-width", 1.5);

const legend = svg.append("g");
let lx = 332;
const ly = 433;
seriesNames.forEach((name, k) => {
  legend.append("line")
    .attr("x1", lx).attr("x2", lx + 15).attr("y1", ly).attr("y2", ly)
    .attr("stroke", seriesColors[k]).attr("stroke-width", 2);
  const t = legend.append("text")
    .attr("x", lx + 19).attr("y", ly).attr("dy", "0.35em")
    .attr("fill", textColor).attr("font-size", 15)
    .text(name);
  lx += 19 + t.node().getComputedTextLength() + 10;
});

// ---- product badge ----
const badge = svg.append("g").attr("fill", "#1b1b1b").attr("font-weight", 800);
badge.append("text").attr("x", 1134).attr("y", 41).attr("text-anchor", "end")
  .attr("font-size", 25).attr("letter-spacing", "-0.3").text("Ansys");
badge.append("text").attr("x", 1133).attr("y", 58).attr("text-anchor", "end")
  .attr("font-size", 12).attr("font-weight", 700).text("2025 R2");
badge.append("line").attr("x1", 1050).attr("x2", 1134).attr("y1", 63.5).attr("y2", 63.5)
  .attr("stroke", "#333").attr("stroke-width", 1.2);
badge.append("text").attr("x", 1058).attr("y", 78)
  .attr("font-size", 13).attr("font-weight", 800).text("STUDENT");
</script>
</body>
</html>
